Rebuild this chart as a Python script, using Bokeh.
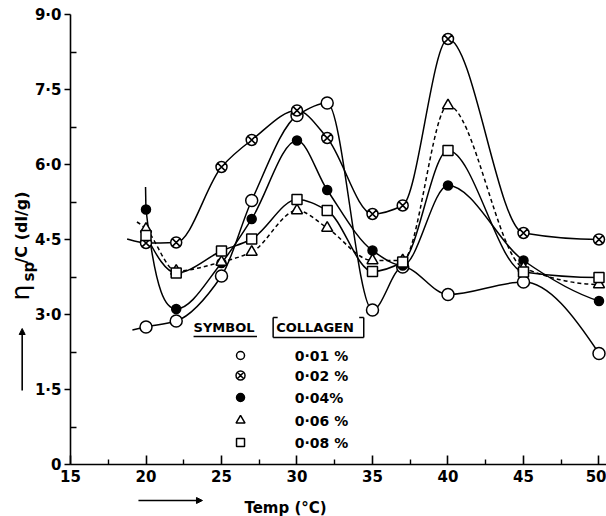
import math
from bokeh.plotting import figure
from bokeh.models import FixedTicker, Arrow, NormalHead
from bokeh.embed import file_html
from bokeh.resources import INLINE
from bokeh.core.properties import value

# ---- data ----
temp_001 = [20, 22, 25, 27, 30, 32, 35, 37, 40, 45, 50]
eta_001 = [2.75, 2.87, 3.77, 5.28, 6.98, 7.23, 3.09, 3.95, 3.40, 3.65, 2.22]
lead_001 = (19.1, 2.69)

temp_002 = [20, 22, 25, 27, 30, 32, 35, 37, 40, 45, 50]
eta_002 = [4.43, 4.44, 5.95, 6.49, 7.08, 6.53, 5.01, 5.18, 8.51, 4.63, 4.50]
lead_002 = (18.75, 4.51)

temp_004 = [20, 22, 25, 27, 30, 32, 35, 37, 40, 45, 50]
eta_004 = [5.10, 3.11, 4.03, 4.91, 6.48, 5.49, 4.28, 3.98, 5.58, 4.08, 3.27]
lead_004 = (19.97, 5.55)

temp_006 = [20, 22, 25, 27, 30, 32, 35, 37, 40, 45, 50]
eta_006 = [4.71, 3.87, 4.05, 4.25, 5.08, 4.73, 4.08, 4.08, 7.18, 3.93, 3.60]
lead_006 = (19.4, 4.85)

temp_008 = [20, 22, 25, 27, 30, 32, 35, 37, 40, 45, 50]
eta_008 = [4.58, 3.83, 4.27, 4.51, 5.30, 5.08, 3.86, 4.05, 6.28, 3.85, 3.74]

legend_labels = ["0·01 %", "0·02 %", "0·04%", "0·06 %", "0·08 %"]
y_ticks = [0, 1.5, 3.0, 4.5, 6.0, 7.5, 9.0]
y_tick_labels = ["0", "1·5", "3·0", "4·5", "6·0", "7·5", "9·0"]
x_ticks = [15, 20, 25, 30, 35, 40, 45, 50]

FONT = "DejaVu Sans"

# the frame covers the whole page; the axes sit at fixed data positions
p = figure(width=606, height=516, output_backend="svg", toolbar_location=None,
           x_range=(10.364, 50.497), y_range=(-1.04, 9.28),
           min_border=0, min_border_left=0, min_border_right=0,
           min_border_top=0, min_border_bottom=0)
p.outline_line_color = None
p.grid.visible = False
p.background_fill_color = "white"

p.xaxis.fixed_location = 0
p.xaxis.bounds = (15, 50.497)
p.yaxis.fixed_location = 15
p.yaxis.bounds = (0, 9)

p.yaxis.ticker = FixedTicker(ticks=y_ticks, minor_ticks=[0.75 + 1.5 * i for i in range(6)])
p.yaxis.major_label_overrides = {t: l for t, l in zip(y_ticks, y_tick_labels)}
p.xaxis.ticker = FixedTicker(ticks=x_ticks, minor_ticks=[17.5 + 5 * i for i in range(7)])
for ax in (p.xaxis, p.yaxis):
    ax.axis_line_width = 1.6
    ax.axis_line_color = "black"
    ax.major_tick_line_width = 1.6
    ax.minor_tick_line_width = 1.4
    ax.major_label_text_font = FONT
    ax.major_label_text_font_style = "bold"
    ax.major_label_text_font_size = "15px"
    ax.major_label_text_color = "black"
p.yaxis.major_tick_out = 6
p.yaxis.major_tick_in = 0
p.yaxis.minor_tick_in = 6
p.yaxis.minor_tick_out = 0
p.yaxis.major_label_standoff = 3
p.xaxis.major_tick_in = 9
p.xaxis.major_tick_out = 0
p.xaxis.minor_tick_in = 5
p.xaxis.minor_tick_out = 0
p.xaxis.major_label_standoff = 5


def smooth_segments(xs, ys):
    # shape-preserving cubic (PCHIP slopes) expressed as Bokeh bezier glyph segments
    n = len(xs)
    h = [xs[i + 1] - xs[i] for i in range(n - 1)]
    d = [(ys[i + 1] - ys[i]) / h[i] for i in range(n - 1)]
    m = [0.0] * n
    for k in range(1, n - 1):
        if d[k - 1] * d[k] <= 0:
            m[k] = 0.0
        else:
            w1 = 2 * h[k] + h[k - 1]
            w2 = h[k] + 2 * h[k - 1]
            m[k] = (w1 + w2) / (w1 / d[k - 1] + w2 / d[k])

    def end_slope(h0, h1, d0, d1):
        s = ((2 * h0 + h1) * d0 - h0 * d1) / (h0 + h1)
        if s * d0 <= 0:
            return 0.0
        if d0 * d1 <= 0 and abs(s) > abs(3 * d0):
            return 3 * d0
        return s

    m[0] = end_slope(h[0], h[1], d[0], d[1])
    m[-1] = end_slope(h[-1], h[-2], d[-1], d[-2])
    out = dict(x0=[], y0=[], x1=[], y1=[], cx0=[], cy0=[], cx1=[], cy1=[])
    for i in range(n - 1):
        out["x0"].append(xs[i]); out["y0"].append(ys[i])
        out["x1"].append(xs[i + 1]); out["y1"].append(ys[i + 1])
        out["cx0"].append(xs[i] + h[i] / 3); out["cy0"].append(ys[i] + m[i] * h[i] / 3)
        out["cx1"].append(xs[i + 1] - h[i] / 3); out["cy1"].append(ys[i + 1] - m[i + 1] * h[i] / 3)
    return out


series = [
    (temp_001, eta_001, lead_001, "circle", 12, "white", None),
    (temp_002, eta_002, lead_002, "circle_x", 11, "white", None),
    (temp_004, eta_004, lead_004, "circle", 9, "black", None),
    (temp_006, eta_006, lead_006, "triangle", 11, "white", "4 3"),
    (temp_008, eta_008, None, "square", 10, "white", None),
]

for xs, ys, lead, marker, size, fill, dash in series:
    px = ([lead[0]] if lead else []) + list(xs)
    py = ([lead[1]] if lead else []) + list(ys)
    seg = smooth_segments(px, py)
    kw = dict(line_color="black", line_width=1.5)
    if dash:
        kw["line_dash"] = dash
    p.bezier(**seg, **kw)

for xs, ys, lead, marker, size, fill, dash in series:
    p.scatter(xs, ys, marker=marker, size=size, fill_color=fill,
              line_color="black", line_width=1.5)

# ---- legend (custom, as in the reference) ----
leg_sym_x = 26.26
leg_txt_x = 29.85
leg_rows = [2.18, 1.78, 1.34, 0.88, 0.44]
leg_markers = [("circle", 8, "white"), ("circle_x", 9, "white"), ("circle", 8, "black"),
               ("triangle", 9, "white"), ("square", 8, "white")]
for (m, s, f), yy in zip(leg_markers, leg_rows):
    p.scatter([leg_sym_x], [yy], marker=m, size=s, fill_color=f,
              line_color="black", line_width=1.5)
p.text(x=[leg_txt_x] * 5, y=leg_rows, text=legend_labels,
       text_font=value(FONT), text_font_style="bold", text_font_size="14px",
       text_baseline="middle", text_align="left", text_color="black")

p.text(x=[23.15], y=[2.74], text=["SYMBOL"], text_font=value(FONT),
       text_font_style="bold", text_font_size="13px", text_baseline="middle",
       text_align="left", text_color="black")
p.segment(x0=[23.15], y0=[2.56], x1=[27.35], y1=[2.56], line_color="black", line_width=1.5)
p.text(x=[28.62], y=[2.74], text=["COLLAGEN"], text_font=value(FONT),
       text_font_style="bold", text_font_size="13px", text_baseline="middle",
       text_align="left", text_color="black")
p.segment(x0=[28.42, 28.42, 34.42, 28.42, 34.42],
          y0=[2.94, 2.54, 2.54, 2.94, 2.94],
          x1=[28.42, 34.42, 34.42, 28.72, 34.12],
          y1=[2.54, 2.54, 2.94, 2.94, 2.94],
          line_color="black", line_width=1.5)

# ---- axis titles ----
p.text(x=[11.69], y=[3.28], text=["η"], angle=math.pi / 2,
       text_font=value(FONT), text_font_size="25px", text_color="black",
       text_baseline="middle", text_align="left")
p.text(x=[12.25], y=[3.66], text=["sp"], angle=math.pi / 2,
       text_font=value(FONT), text_font_size="15px", text_font_style="bold",
       text_color="black", text_baseline="middle", text_align="left")
p.text(x=[11.75], y=[4.02], text=["/C (dl/g)"], angle=math.pi / 2,
       text_font=value(FONT), text_font_size="16px", text_font_style="bold",
       text_color="black", text_baseline="middle", text_align="left")
p.add_layout(Arrow(x_start=11.8, y_start=1.48, x_end=11.8, y_end=2.72,
                   line_width=1.6, line_color="black",
                   end=NormalHead(size=6, line_color="black", fill_color="black")))
p.add_layout(Arrow(x_start=19.5, y_start=-0.72, x_end=23.74, y_end=-0.72,
                   line_width=1.6, line_color="black",
                   end=NormalHead(size=6, line_color="black", fill_color="black")))
p.text(x=[29.24], y=[-0.86], text=["Temp (°C)"],
       text_font=value(FONT), text_font_size="15px", text_font_style="bold",
       text_color="black", text_baseline="middle", text_align="center")

open("out.html", "w").write(file_html(p, INLINE))
